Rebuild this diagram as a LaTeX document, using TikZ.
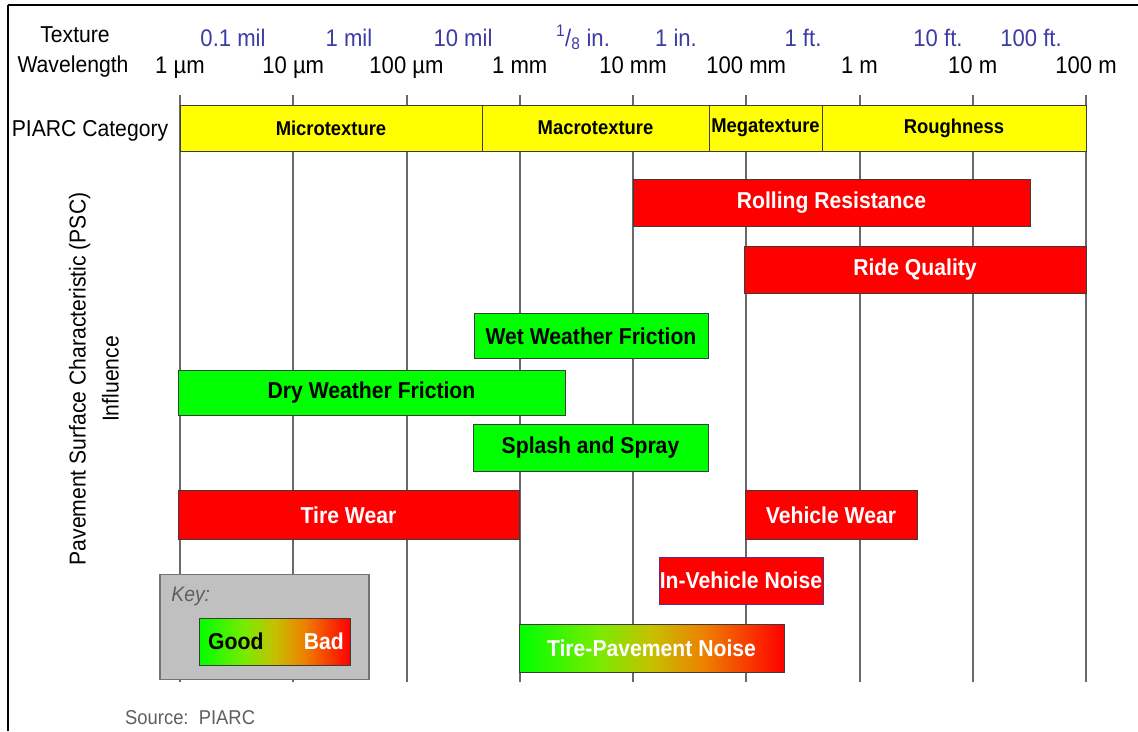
\documentclass[tikz,border=0pt]{standalone}
\usepackage{fontspec}
\setmainfont[FakeStretch=0.92]{Liberation Sans}
\usepackage{tikz}
\usetikzlibrary{positioning}
\definecolor{gridgray}{RGB}{105,105,105}
\definecolor{bardraw}{RGB}{60,60,60}
\definecolor{piarcyellow}{RGB}{255,255,0}
\definecolor{goodgreen}{RGB}{0,255,0}
\definecolor{badred}{RGB}{255,0,0}
\definecolor{fadegreen}{RGB}{120,235,0}
\definecolor{fadeolive}{RGB}{198,192,0}
\definecolor{fadeorange}{RGB}{238,128,0}
\definecolor{inchblue}{RGB}{60,60,165}
\definecolor{keygray}{RGB}{192,192,192}
\definecolor{keydraw}{RGB}{115,115,115}
\definecolor{sourcegray}{RGB}{95,95,95}
\definecolor{noiseedge}{RGB}{95,45,135}
\pgfdeclarehorizontalshading{goodbad}{100bp}{color(0bp)=(goodgreen); color(25bp)=(goodgreen);
  color(40bp)=(fadegreen); color(50bp)=(fadeolive); color(60bp)=(fadeorange);
  color(75bp)=(badred); color(100bp)=(badred)}
\newcommand{\oneeighth}{\textsuperscript{1}/\textsubscript{8}}
\tikzstyle{gridline} = [draw=gridgray, line width=2pt]
\tikzstyle{bar} = [draw=bardraw, line width=1pt, inner sep=0pt, outer sep=0pt,
    minimum height=47pt, font=\fontsize{23}{26}\selectfont\bfseries]
\tikzstyle{good} = [bar, fill=goodgreen]
\tikzstyle{bad} = [bar, fill=badred, text=white]
\tikzstyle{mixed} = [bar, shading=goodbad, text=white]
\tikzstyle{band} = [draw=bardraw, line width=1pt, fill=piarcyellow, inner sep=0pt,
    outer sep=0pt, minimum height=46pt, font=\fontsize{20}{22}\selectfont\bfseries]
\tikzstyle{scalelabel} = [anchor=base, inner sep=0pt, font=\fontsize{24}{26}\selectfont]
\tikzstyle{inchlabel} = [scalelabel, text=inchblue]
\tikzstyle{heading} = [anchor=base, inner sep=0pt, font=\fontsize{23}{25}\selectfont]

\begin{document}
\begin{tikzpicture}[x=1pt, y=-1pt]
  \useasboundingbox (0,0) rectangle (1138,731);
  \fill [white] (0,0) rectangle (1138,731);
  \draw [line width=2.5pt] (8,5) -- (1138,5);
  \draw [line width=2.5pt] (8,5) -- (8,731);

  \node [heading] (texture) at (75,42) {Texture};
  \node [heading] (wavelength) at (73,72) {Wavelength};
  \node [heading] (piarc) at (90,136) {PIARC Category};
  \node [rotate=90, align=center, font=\fontsize{23}{33}\selectfont] (psc) at (94,379)
    {Pavement Surface Characteristic (PSC)\\Influence};

  \foreach \x/\lab [count=\i] in {233/0.1 mil, 349/1 mil, 463/10 mil, 583/\oneeighth\ in.,
      676/1 in., 803/1 ft., 938/10 ft., 1031/100 ft.}
    \node [inchlabel] (in\i) at (\x,46) {\lab};
  \foreach \lab [count=\i from 0] in {1 µm, 10 µm, 100 µm, 1 mm, 10 mm, 100 mm, 1 m, 10 m, 100 m}
    \node [scalelabel] (si\i) at (180+113.25*\i,73) {\lab};

  \foreach \i in {0,...,8}
    \draw [gridline] (180+113.25*\i,95) -- (180+113.25*\i,682);

  \node [band, minimum width=302pt] (micro) at (331,128) {Microtexture};
  \node [band, minimum width=227pt, right=0pt of micro] (macro) {Macrotexture};
  \node [band, minimum width=113pt, right=0pt of macro] (mega) {Megatexture};
  \node [band, minimum width=264pt, right=0pt of mega] (rough) {Roughness};

  \node [bad, minimum width=397pt] (rolling) at (831.5,202.5) {Rolling Resistance};
  \node [bad, minimum width=342pt] (ride) at (915,269.5) {Ride Quality};
  \node [good, minimum width=234pt, minimum height=45pt] (wetfric) at (591,336) {Wet Weather Friction};
  \node [good, minimum width=387pt, minimum height=45pt] (dryfric) at (371.5,392.5) {Dry Weather Friction};
  \node [good, minimum width=235pt] (splash) at (590.5,447.5) {Splash and Spray};
  \node [bad, minimum width=341pt, minimum height=49pt] (tirewear) at (348.5,515) {Tire Wear};
  \node [bad, minimum width=172pt, minimum height=49pt] (vehwear) at (831,515) {Vehicle Wear};
  \node [bad, draw=noiseedge, minimum width=164pt] (invehnoise) at (741,580.5) {In-Vehicle Noise};
  \node [mixed, minimum width=265pt, minimum height=48pt] (tirepavnoise) at (651.5,648) {Tire-Pavement Noise};

  \node [draw=keydraw, line width=1.5pt, fill=keygray, minimum width=209pt,
    minimum height=105pt, inner sep=0pt] (keybox) at (264.5,627) {};
  \node [inner sep=0pt, text=sourcegray, font=\fontsize{21}{23}\selectfont\itshape,
    below right=13pt and 12pt of keybox.north west] (keylabel) {Key:};
  \node [mixed, text=black, minimum width=151pt] (keybar) at (274.5,641.5) {};
  \node [inner sep=0pt, font=\fontsize{23}{26}\selectfont\bfseries,
    right=9pt of keybar.west] (good) {Good};
  \node [inner sep=0pt, text=white, font=\fontsize{23}{26}\selectfont\bfseries,
    left=6pt of keybar.east] (bad) {Bad};

  \node [anchor=base west, inner sep=0pt, text=sourcegray, font=\fontsize{20}{22}\selectfont]
    (source) at (125,724) {Source:\ \ PIARC};
\end{tikzpicture}
\end{document}
